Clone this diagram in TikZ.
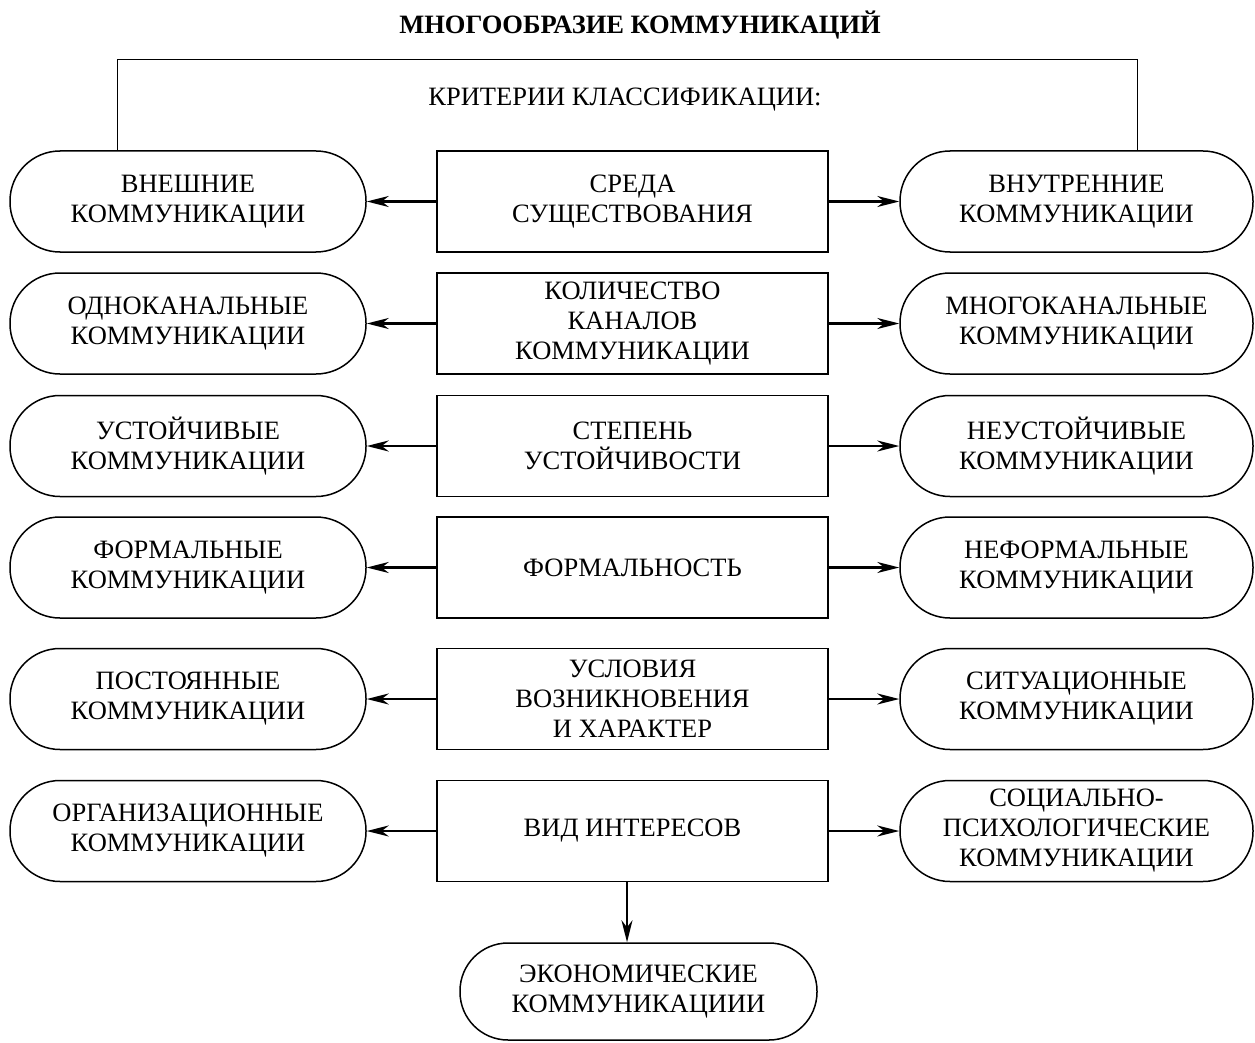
\documentclass[tikz,border=0pt]{standalone}
\usepackage{fontspec}
\setmainfont{Liberation Serif}
\usetikzlibrary{arrows.meta}
\newcommand{\fsz}{\fontsize{26.5}{30}\selectfont}
\tikzset{
  pill/.style={draw, line width=1.5pt, rounded corners=50pt, minimum width=356pt, minimum height=101pt, align=center, font=\fsz, inner sep=0pt},
  crit/.style={draw, line width=1.5pt, minimum width=391pt, minimum height=101pt, align=center, font=\fsz, inner sep=0pt},
  conn/.style={line width=2.2pt, -{Stealth[length=22pt,width=11pt,inset=7pt]}},
  frame/.style={line width=1pt}
}
\begin{document}
\begin{tikzpicture}[x=1pt,y=-1pt]
\useasboundingbox (0,0) rectangle (1255,1043);
\node[font=\fsz\bfseries] (title) at (640,25) {МНОГООБРАЗИЕ КОММУНИКАЦИЙ};
\node[font=\fsz] (crit) at (625,100) {КРИТЕРИИ КЛАССИФИКАЦИИ:};

\node[crit] (c1) at (632.5,201.5) {СРЕДА\\СУЩЕСТВОВАНИЯ};
\node[crit] (c2) at (632.5,323.5) {КОЛИЧЕСТВО\\КАНАЛОВ\\КОММУНИКАЦИИ};
\node[crit] (c3) at (632.5,446) {СТЕПЕНЬ\\УСТОЙЧИВОСТИ};
\node[crit] (c4) at (632.5,567.5) {ФОРМАЛЬНОСТЬ};
\node[crit] (c5) at (632.5,699) {УСЛОВИЯ\\ВОЗНИКНОВЕНИЯ\\И ХАРАКТЕР};
\node[crit] (c6) at (632.5,831) {ВИД ИНТЕРЕСОВ};

\node[pill] (l1) at (188,201.5) {ВНЕШНИЕ\\КОММУНИКАЦИИ};
\node[pill] (l2) at (188,323.5) {ОДНОКАНАЛЬНЫЕ\\КОММУНИКАЦИИ};
\node[pill] (l3) at (188,446) {УСТОЙЧИВЫЕ\\КОММУНИКАЦИИ};
\node[pill] (l4) at (188,567.5) {ФОРМАЛЬНЫЕ\\КОММУНИКАЦИИ};
\node[pill] (l5) at (188,699) {ПОСТОЯННЫЕ\\КОММУНИКАЦИИ};
\node[pill] (l6) at (188,831) {ОРГАНИЗАЦИОННЫЕ\\КОММУНИКАЦИИ};

\node[pill, minimum width=353pt] (r1) at (1076.5,201.5) {ВНУТРЕННИЕ\\КОММУНИКАЦИИ};
\node[pill, minimum width=353pt] (r2) at (1076.5,323.5) {МНОГОКАНАЛЬНЫЕ\\КОММУНИКАЦИИ};
\node[pill, minimum width=353pt] (r3) at (1076.5,446) {НЕУСТОЙЧИВЫЕ\\КОММУНИКАЦИИ};
\node[pill, minimum width=353pt] (r4) at (1076.5,567.5) {НЕФОРМАЛЬНЫЕ\\КОММУНИКАЦИИ};
\node[pill, minimum width=353pt] (r5) at (1076.5,699) {СИТУАЦИОННЫЕ\\КОММУНИКАЦИИ};
\node[pill, minimum width=353pt] (r6) at (1076.5,831) {СОЦИАЛЬНО-\\ПСИХОЛОГИЧЕСКИЕ\\КОММУНИКАЦИИ};

\node[pill, minimum width=357pt, minimum height=97pt, rounded corners=48pt] (eco) at (638.5,991.5) {ЭКОНОМИЧЕСКИЕ\\КОММУНИКАЦИИИ};

\coordinate (bl) at (117,60);
\coordinate (br) at (1137,60);
\draw[frame] (bl |- l1.north) -- (bl) -- (br) -- (br |- r1.north);

\foreach \i in {1,...,6}{
  \draw[conn] (l\i.east -| c\i.west) -- (l\i.east);
  \draw[conn] (r\i.west -| c\i.east) -- (r\i.west);
}
\coordinate (down) at (627,0);
\draw[conn] (down |- c6.south) -- (down |- eco.north);
\end{tikzpicture}
\end{document}
